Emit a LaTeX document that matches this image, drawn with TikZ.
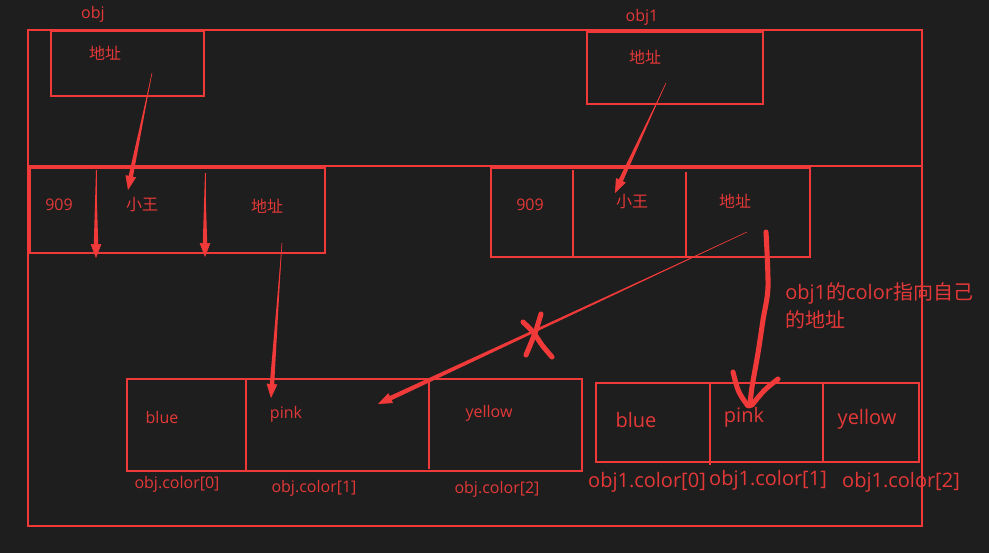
\documentclass[tikz,border=0pt]{standalone}
\usepackage{fontspec}
\setmainfont{Open Sans}
\newfontfamily\cjk{Noto Sans CJK SC}
\usetikzlibrary{arrows.meta,calc,fit}
\definecolor{bg}{RGB}{30,30,30}
\definecolor{rl}{RGB}{240,58,58}
\definecolor{rt}{RGB}{228,56,56}
\newcommand\taparrow[2]{%
  \coordinate (tb) at ($(#2)!9pt!(#1)$);
  \fill[rl] (#1) -- ($(tb)!1.7pt!90:(#1)$) -- ($(tb)!1.7pt!-90:(#1)$) -- cycle;
  \draw[rl, line width=0.4pt, -{Triangle[length=10.5pt,width=8pt]}] (#1) -- (#2);
}
\begin{document}
\begin{tikzpicture}[x=0.75pt,y=-0.75pt,
  box/.style={draw=rl, line width=1.5pt, inner sep=0pt},
  sep/.style={draw=rl, line width=1.5pt},
  lbl/.style={text=rt, inner sep=0pt, font=\fontsize{12}{14}\selectfont},
  big/.style={text=rt, inner sep=0pt, font=\fontsize{15}{18}\selectfont},
  hand/.style={draw=rl, line width=3.8pt, line cap=round, line join=round},
]
\fill[bg] (0,0) rectangle (989,553);
\useasboundingbox (0,0) rectangle (989,553);

% outer frame
\node[box, fit={(28,30) (922,526)}] (frame) {};
\coordinate (div) at (0,166);
\draw[sep] (frame.west |- div) -- (frame.east |- div);

% obj reference box
\node[box, fit={(51,31) (204,96)}] (objbox) {};
\node[lbl] (objname) at (93,14) {obj};
\node[lbl] (objaddr) at (105,53) {\cjk 地址};

% obj1 reference box
\node[box, fit={(587,32) (763,104)}] (obj1box) {};
\node[lbl] (obj1name) at (642,17) {obj1};
\node[lbl] (obj1addr) at (645,57) {\cjk 地址};

% left object
\node[box, fit={(30,168) (325,253)}] (oleft) {};
\node[lbl] (l909) at (59,205) {909};
\node[lbl] (lname) at (142,205) {\cjk 小王};
\node[lbl] (laddr) at (267,206) {\cjk 地址};

% right object
\node[box, fit={(491,168) (810,257)}] (oright) {};
\draw[sep] (573,170) -- (573,257);
\draw[sep] (686,172) -- (686,257);
\node[lbl] (r909) at (530,205) {909};
\node[lbl] (rname) at (632,202) {\cjk 小王};
\node[lbl] (raddr) at (735,201) {\cjk 地址};

% left array
\node[box, fit={(127,379) (582,471)}] (arrl) {};
\draw[sep] (246,379) -- (246,471);
\draw[sep] (429,379) -- (429,469);
\node[lbl] (lblue) at (162,417) {blue};
\node[lbl] (lpink) at (286,414) {pink};
\node[lbl] (lyellow) at (489,413) {yellow};
\node[lbl] (lc0) at (177,484) {obj.color[0]};
\node[lbl] (lc1) at (314,488) {obj.color[1]};
\node[lbl] (lc2) at (497,489) {obj.color[2]};

% right array
\node[box, fit={(596,383) (919,462)}] (arrr) {};
\draw[sep] (710,383) -- (710,465);
\draw[sep] (823,383) -- (823,462);
\node[big] (rblue) at (636,420) {blue};
\node[big] (rpink) at (744,417) {pink};
\node[big] (ryellow) at (867,419) {yellow};
\node[big] (rc0) at (647,482) {obj1.color[0]};
\node[big] (rc1) at (768,480) {obj1.color[1]};
\node[big] (rc2) at (901,482) {obj1.color[2]};

% note
\node[big, anchor=west, align=left, font=\fontsize{15}{21}\selectfont] (note) at (785,306)
  {obj1{\cjk 的}color{\cjk 指向自己}\\{\cjk 的地址}};

% arrow end points
\coordinate (a1s) at (152,73);  \coordinate (a1e) at (128,190);
\coordinate (a2s) at (96,170);  \coordinate (a2e) at (96,258);
\coordinate (a3s) at (205,173); \coordinate (a3e) at (205,257);
\coordinate (a4s) at (282,243); \coordinate (a4e) at (271,398);
\coordinate (a5s) at (666,83);  \coordinate (a5e) at (615,193);
\coordinate (a6s) at (747,232); \coordinate (a6e) at (378,404);

\taparrow{a1s}{a1e}
\taparrow{a2s}{a2e}
\taparrow{a3s}{a3e}
\taparrow{a4s}{a4e}
\taparrow{a5s}{a5e}
\taparrow{a6s}{a6e}

% cross mark
\draw[hand] plot[smooth] coordinates {(523,322) (533,332) (542,345) (552,357)};
\draw[hand] plot[smooth] coordinates {(541,314) (535,333) (526,355)};

% hand drawn arrow
\draw[hand] plot[smooth] coordinates {(766,232) (768,287) (763,320) (758,353) (752,387) (750,405)};
\draw[hand] (733,372) .. controls (738,392) .. (748,406) -- (752,405) .. controls (764,390) .. (778,379);
\end{tikzpicture}
\end{document}
